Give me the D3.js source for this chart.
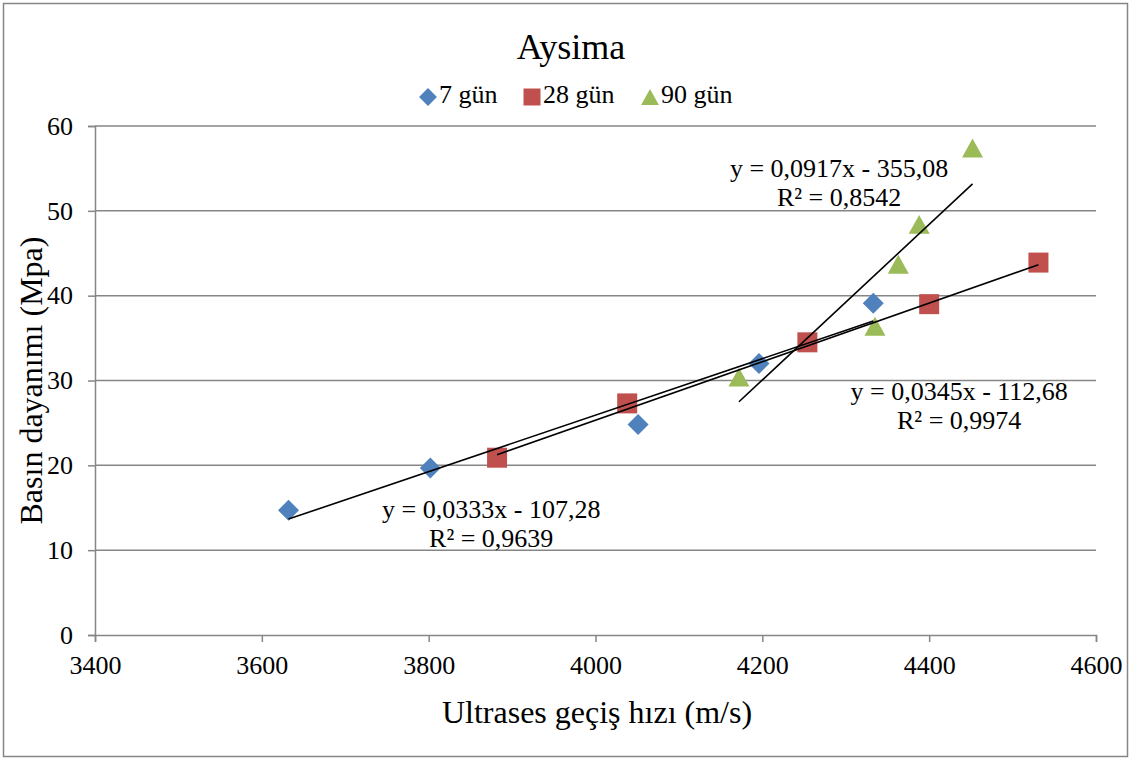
<!DOCTYPE html>
<html>
<head>
<meta charset="utf-8">
<script src="https://cdn.jsdelivr.net/npm/d3@7"></script>
<style>
  body { margin: 0; background: #fff; }
  svg text { font-family: "Liberation Serif", "Times New Roman", serif !important; fill: #000; }
</style>
</head>
<body>
<svg id="chart" width="1132" height="761"></svg>
<script>
// values
var seriesNames = ["7 gün", "28 gün", "90 gün"];
var seriesColors = ["#4F81BD", "#C0504D", "#9BBB59"];
var seriesShapes = ["diamond", "square", "triangle"];

var hiz7 = [3632, 3802, 4051, 4196, 4333];
var dayanim7 = [14.7, 19.7, 24.8, 32.0, 39.1];
var hiz28 = [3882, 4038, 4254, 4400, 4531];
var dayanim28 = [20.9, 27.3, 34.5, 39.0, 43.9];
var hiz90 = [4172, 4335, 4363, 4388, 4452];
var dayanim90 = [30.4, 36.4, 43.7, 48.4, 57.4];

// trendline slope / intercept as printed on the chart
var egim = [0.0333, 0.0345, 0.0917];
var kesen = [-107.28, -112.68, -355.08];
var denklemler = ["y = 0,0333x - 107,28", "y = 0,0345x - 112,68", "y = 0,0917x - 355,08"];
var r2Etiket = ["R² = 0,9639", "R² = 0,9974", "R² = 0,8542"];
// label anchors in data units (centre x, first baseline y)
var etiketX = [3875, 4436, 4292];
var etiketY = [13.8, 27.7, 54.0];

var xTicks = [3400, 3600, 3800, 4000, 4200, 4400, 4600];
var yTicks = [0, 10, 20, 30, 40, 50, 60];

var FONT = "'Liberation Serif', 'Times New Roman', serif";
var svg = d3.select("#chart").attr("font-family", FONT);
var W = 1132, H = 761;
var plot = { left: 95, right: 1096, top: 126, bottom: 635 };

// outer chart border
svg.append("rect")
    .attr("x", 3.5).attr("y", 3.5)
    .attr("width", W - 8).attr("height", H - 8)
    .attr("fill", "#fff").attr("stroke", "#868686").attr("stroke-width", 1.5);

var x = d3.scaleLinear().domain([3400, 4600]).range([plot.left, plot.right]);
var y = d3.scaleLinear().domain([0, 60]).range([plot.bottom, plot.top]);

// gridlines
svg.append("g").selectAll("line")
    .data(yTicks.filter(function(d) { return d > 0; }))
    .enter().append("line")
    .attr("x1", plot.left).attr("x2", plot.right)
    .attr("y1", function(d) { return y(d); })
    .attr("y2", function(d) { return y(d); })
    .attr("stroke", "#868686").attr("stroke-width", 1.5);

// axes
var xAxis = svg.append("g")
    .attr("transform", "translate(0," + plot.bottom + ")")
    .call(d3.axisBottom(x).tickValues(xTicks).tickSize(7).tickPadding(14).tickFormat(d3.format("d")));
var yAxis = svg.append("g")
    .attr("transform", "translate(" + plot.left + ",0)")
    .call(d3.axisLeft(y).tickValues(yTicks).tickSize(7).tickPadding(15).tickFormat(d3.format("d")));

[xAxis, yAxis].forEach(function(a) {
  a.attr("font-family", FONT).attr("font-size", 26);
  a.select(".domain").attr("stroke", "#868686").attr("stroke-width", 1.5);
  a.selectAll(".tick line").attr("stroke", "#868686").attr("stroke-width", 1.5);
  a.selectAll(".tick text").attr("fill", "#000");
});

// titles
svg.append("text").attr("x", 571).attr("y", 59)
    .attr("text-anchor", "middle").attr("font-size", 36).text("Aysima");
svg.append("text").attr("x", 597).attr("y", 723)
    .attr("text-anchor", "middle").attr("font-size", 32).text("Ultrases geçiş hızı (m/s)");
svg.append("text")
    .attr("transform", "translate(42," + ((plot.top + plot.bottom) / 2) + ") rotate(-90)")
    .attr("text-anchor", "middle").attr("font-size", 32).text("Basın dayanımı (Mpa)");

// marker paths, r = half width
function markerPath(shape, r) {
  if (shape === "diamond") return "M0," + (-r) + "L" + r + ",0L0," + r + "L" + (-r) + ",0Z";
  if (shape === "square") return "M" + (-r) + "," + (-r) + "h" + (2 * r) + "v" + (2 * r) + "h" + (-2 * r) + "Z";
  var h = r * 1.8;
  return "M0," + (-h / 2) + "L" + r + "," + (h / 2) + "L" + (-r) + "," + (h / 2) + "Z";
}
var markerR = { diamond: 10.5, square: 10, triangle: 10.5 };

function marker(sel, shape, color, scale) {
  sel.append("path")
    .attr("d", markerPath(shape, markerR[shape] * (scale || 1)))
    .attr("fill", color);
}

var seriler = [
  { hiz: hiz7, dayanim: dayanim7 },
  { hiz: hiz28, dayanim: dayanim28 },
  { hiz: hiz90, dayanim: dayanim90 }
];

// points
seriler.forEach(function(s, i) {
  var pts = s.hiz.map(function(v, j) { return [v, s.dayanim[j]]; });
  svg.append("g").selectAll("g")
    .data(pts).enter().append("g")
    .attr("transform", function(d) { return "translate(" + x(d[0]) + "," + y(d[1]) + ")"; })
    .each(function() { marker(d3.select(this), seriesShapes[i], seriesColors[i]); });
});

// linear trendlines from min to max x of each series
seriler.forEach(function(s, i) {
  var ext = d3.extent(s.hiz);
  svg.append("line")
    .attr("x1", x(ext[0])).attr("y1", y(egim[i] * ext[0] + kesen[i]))
    .attr("x2", x(ext[1])).attr("y2", y(egim[i] * ext[1] + kesen[i]))
    .attr("stroke", "#000").attr("stroke-width", 1.6);
});

// trendline equations
seriler.forEach(function(s, i) {
  var t = svg.append("text")
    .attr("x", x(etiketX[i])).attr("y", y(etiketY[i]))
    .attr("text-anchor", "middle").attr("font-size", 26);
  t.append("tspan").attr("x", x(etiketX[i])).text(denklemler[i]);
  t.append("tspan").attr("x", x(etiketX[i])).attr("dy", 29).text(r2Etiket[i]);
});

// legend
var legend = svg.append("g").attr("transform", "translate(0,97)");
var legendX = [428, 532, 650];
seriesNames.forEach(function(name, i) {
  var g = legend.append("g").attr("transform", "translate(" + legendX[i] + ",0)");
  marker(g, seriesShapes[i], seriesColors[i], 0.85);
  g.append("text").attr("x", 11).attr("y", 6).attr("font-size", 26).text(name);
});
</script>
</body>
</html>
